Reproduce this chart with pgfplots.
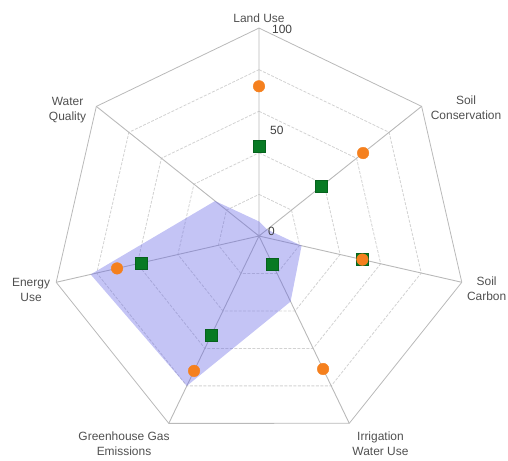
\documentclass[border=0pt]{standalone}
\usepackage{pgfplots}
\pgfplotsset{compat=1.18}
\usepackage{pgfplotstable}
\usepackage{fontspec}
\setmainfont{Liberation Sans}

\definecolor{dotorange}{RGB}{245,128,30}
\definecolor{sqgreen}{RGB}{8,122,36}
\definecolor{areablue}{RGB}{100,100,230}
\definecolor{labelgray}{RGB}{80,80,80}
\definecolor{spokegray}{RGB}{185,185,185}
\definecolor{ringgray}{RGB}{210,210,210}

% k = axis index, clockwise from "Land Use" at the top
\pgfplotstableread{
k orange green blue
0 72  43  7
1 64  38  5
2 51  51  21
3 71  15  35
4 72  53  80
5 70  58  83
6 nan nan 27
}\radardata

\pgfplotstableread{
k r
0 100
1 100
2 100
3 100
4 100
5 100
6 100
7 100
}\heptagon

\pgfplotstableread{
k r
0 0
0 100
0 nan
1 0
1 100
1 nan
2 0
2 100
2 nan
3 0
3 100
3 nan
4 0
4 100
4 nan
5 0
5 100
5 nan
6 0
6 100
}\spokes

\pgfplotsset{
  /pgfplots/table/radar/.style={
    x expr={\thisrow{#1}*cos(90-\thisrow{k}*360/7)},
    y expr={\thisrow{#1}*sin(90-\thisrow{k}*360/7)}},
  /pgfplots/table/ring/.style={
    x expr={#1*cos(90-\thisrow{k}*360/7)},
    y expr={#1*sin(90-\thisrow{k}*360/7)}},
}
\tikzset{
  lbl/.style={font=\fontsize{12}{15}\selectfont, text=labelgray, inner sep=1bp, align=center},
  tck/.style={font=\fontsize{12}{15}\selectfont, text=black!75, inner sep=1bp, anchor=west},
}

\begin{document}
\begin{tikzpicture}
\useasboundingbox (0,0) rectangle (508bp,461bp);
\begin{axis}[
  at={(0,0)}, anchor=south west,
  scale only axis, width=508bp, height=461bp,
  xmin=-124.5, xmax=119.7, ymin=-108.2, ymax=113.5,
  hide axis, clip=false,
  unbounded coords=jump,
]
% grid
\pgfplotsinvokeforeach{20,40,60,80}{
  \addplot[ringgray, line width=0.8bp, dash pattern=on 3bp off 1.5bp, mark=none] table[ring=#1] {\heptagon};
}
\addplot[spokegray, line width=0.8bp, mark=none] table[ring=100] {\heptagon};
\addplot[spokegray, line width=0.9bp, mark=none] table[radar=r] {\spokes};

% series
\addplot[only marks, mark=square*, mark size=6bp,
  mark options={fill=sqgreen, draw=sqgreen!80!black, line width=0.5bp}] table[radar=green] {\radardata};
\addplot[only marks, mark=*, mark size=5.8bp,
  mark options={fill=dotorange, draw=dotorange}] table[radar=orange] {\radardata};
\addplot[draw=none, fill=areablue, fill opacity=0.38, mark=none] table[radar=blue] {\radardata};

% scale labels
\node[tck, xshift=12bp, yshift=-1bp] at (axis cs:0,100) {100};
\node[tck, xshift=10bp, yshift=2bp] at (axis cs:0,50) {50};
\node[tck, xshift=8bp, yshift=5bp] at (axis cs:0,0) {0};

% axis labels
\node[lbl, anchor=south, yshift=4bp] at (axis cs:0,100) {Land Use};
\node[lbl, anchor=west, xshift=8bp, yshift=-1bp] at (axis cs:78.18,62.35) {Soil\\Conservation};
\node[lbl, anchor=west, xshift=4bp, yshift=-6bp] at (axis cs:97.49,-22.25) {Soil\\Carbon};
\node[lbl, anchor=north west, xshift=2bp, yshift=-7bp] at (axis cs:43.39,-90.10) {Irrigation\\Water Use};
\node[lbl, anchor=north east, xshift=2bp, yshift=-7bp] at (axis cs:-43.39,-90.10) {Greenhouse Gas\\Emissions};
\node[lbl, anchor=east, xshift=-5bp, yshift=-8bp] at (axis cs:-97.49,-22.25) {Energy\\Use};
\node[lbl, anchor=east, xshift=-9bp, yshift=-4bp] at (axis cs:-78.18,62.35) {Water\\Quality};
\end{axis}
\end{tikzpicture}
\end{document}
